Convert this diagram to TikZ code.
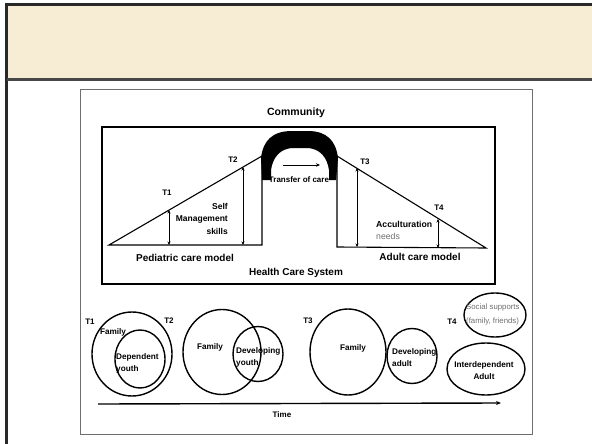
\documentclass[tikz,border=0pt]{standalone}
\usepackage{fontspec}
\setmainfont{Liberation Sans}
\usetikzlibrary{arrows.meta}
\definecolor{headbeige}{RGB}{247,237,213}
\definecolor{frameink}{RGB}{40,40,40}
\definecolor{softgray}{RGB}{110,110,110}
\tikzset{
  lbl/.style={inner sep=0pt, font=\fontsize{10}{12}\selectfont\bfseries},
  small/.style={inner sep=0pt, font=\fontsize{8.2}{12}\selectfont\bfseries},
  tlbl/.style={inner sep=0pt, font=\fontsize{8}{10}\selectfont\bfseries},
  thin gray/.style={inner sep=0pt, text=softgray, font=\fontsize{7.8}{14}\selectfont},
  modelline/.style={line width=1.1pt, black},
  levelarrow/.style={line width=0.8pt, {Stealth[length=3.5pt,width=3pt]}-{Stealth[length=3.5pt,width=3pt]}},
  ring/.style={line width=1.4pt, black},
}
\begin{document}
\begin{tikzpicture}[x=1pt,y=-1pt]
\useasboundingbox (0,0) rectangle (592,444);

% slide frame with beige title band
\fill[headbeige] (7,5) rectangle (592,79);
\draw[frameink, line width=2.6pt] (592,4.5) -- (6.5,4.5) -- (6.5,444);
\draw[frameink!85, line width=2.4pt] (6.5,79.5) -- (592,79.5);

% figure panel
\draw[softgray, line width=0.9pt] (80,89) rectangle (532,434);

% health care system box
\node[draw, line width=1.3pt, minimum width=393pt, minimum height=157pt, inner sep=0pt] (hcs) at (298.5,205.5) {};

\node[lbl, font=\fontsize{10.5}{12}\selectfont\bfseries] (community) at (296,113) {Community};
\node[lbl] (hcslabel) at (296,273) {Health Care System};
\node[lbl] (pedlabel) at (185,258) {Pediatric care model};
\node[lbl] (adultlabel) at (420,257) {Adult care model};

% pediatric triangle
\coordinate (pA) at (109,245);
\coordinate (pB) at (262,245);
\coordinate (pC) at (262,156);
\draw[modelline] (pA) -- (pB) -- (pC) -- cycle;

% adult triangle
\coordinate (aA) at (337,247);
\coordinate (aB) at (486,248);
\coordinate (aC) at (337,156);
\draw[modelline] (aC) -- (aA) -- (aB) -- cycle;

% transfer arch: a thick dome between the two care models
\fill[black] (262,180) -- (261,158)
  .. controls (263,141) and (272,131) .. (292,131)
  -- (308,131)
  .. controls (327,131) and (336,141) .. (338,158)
  -- (336,180) -- (329,180) -- (329,170)
  .. controls (327,157) and (320,149) .. (308,148)
  -- (292,148)
  .. controls (280,149) and (273,157) .. (271,170)
  -- (271,180) -- cycle;

\coordinate (trS) at (283,165);
\coordinate (trE) at (320,165);
\draw[line width=1pt, -{Stealth[length=4pt,width=3.5pt]}] (trS) -- (trE);
\node[small, font=\fontsize{8}{10}\selectfont\bfseries] (transfer) at (299,180) {Transfer of care};

% level arrows
\coordinate (t1b) at (169,245); \coordinate (t1t) at (169,210);
\coordinate (t2b) at (243,245); \coordinate (t2t) at (243,167);
\coordinate (t3b) at (357,247); \coordinate (t3t) at (357,168);
\coordinate (t4b) at (438,248); \coordinate (t4t) at (438,219);
\draw[levelarrow] (t1b) -- (t1t);
\draw[levelarrow] (t2b) -- (t2t);
\draw[levelarrow] (t3b) -- (t3t);
\draw[levelarrow] (t4b) -- (t4t);
\node[tlbl] (T1top) at (167,193) {T1};
\node[tlbl] (T2top) at (233,160) {T2};
\node[tlbl] (T3top) at (365,162) {T3};
\node[tlbl] (T4top) at (439,208) {T4};

\node[small, font=\fontsize{8.5}{12.5}\selectfont\bfseries, align=right, anchor=north east] (selfmgmt) at (228,203) {Self\\Management\\skills};
\node[small, font=\fontsize{8.7}{12}\selectfont\bfseries, anchor=west] (accult) at (376,224) {Acculturation};
\node[thin gray, font=\fontsize{8.7}{12}\selectfont, anchor=west] (needs) at (376,236) {needs};

% stages over time
\node[tlbl] (T1low) at (90,322) {T1};
\node[tlbl] (T2low) at (169,321) {T2};
\node[tlbl] (T3low) at (308,321) {T3};
\node[tlbl] (T4low) at (452,322) {T4};

\draw[ring] (132,354) ellipse [x radius=40, y radius=42];
\draw[ring] (140,359) ellipse [x radius=25, y radius=29];
\node[small] (fam1) at (113,332) {Family};
\node[small, align=left, anchor=west] (depyouth) at (116,363) {Dependent\\youth};

\draw[ring] (222,352) ellipse [x radius=39, y radius=42.5];
\draw[ring] (258,354) ellipse [x radius=25, y radius=27.5];
\node[small] (fam2) at (210,347) {Family};
\node[small, align=left, anchor=west] (devyouth) at (236,357) {Developing\\youth};

\draw[ring] (348,352) ellipse [x radius=38, y radius=43];
\draw[ring] (412,356) ellipse [x radius=25, y radius=27.5];
\node[small] (fam3) at (353,348) {Family};
\node[small, align=left, anchor=west] (devadult) at (392,358) {Developing\\adult};

\draw[ring] (495,315) ellipse [x radius=31, y radius=22];
\node[thin gray, align=left, anchor=west] (social) at (466,314) {Social supports\\(family, friends)};
\draw[ring] (486,369) ellipse [x radius=39, y radius=26];
\node[small, align=center] (interdep) at (484,371) {Interdependent\\Adult};

% time axis
\coordinate (timeS) at (98,404);
\coordinate (timeE) at (501,403);
\draw[line width=1.4pt, -{Stealth[length=5pt,width=4pt]}] (timeS) -- (timeE);
\node[tlbl] (time) at (282,415) {Time};
\end{tikzpicture}
\end{document}
